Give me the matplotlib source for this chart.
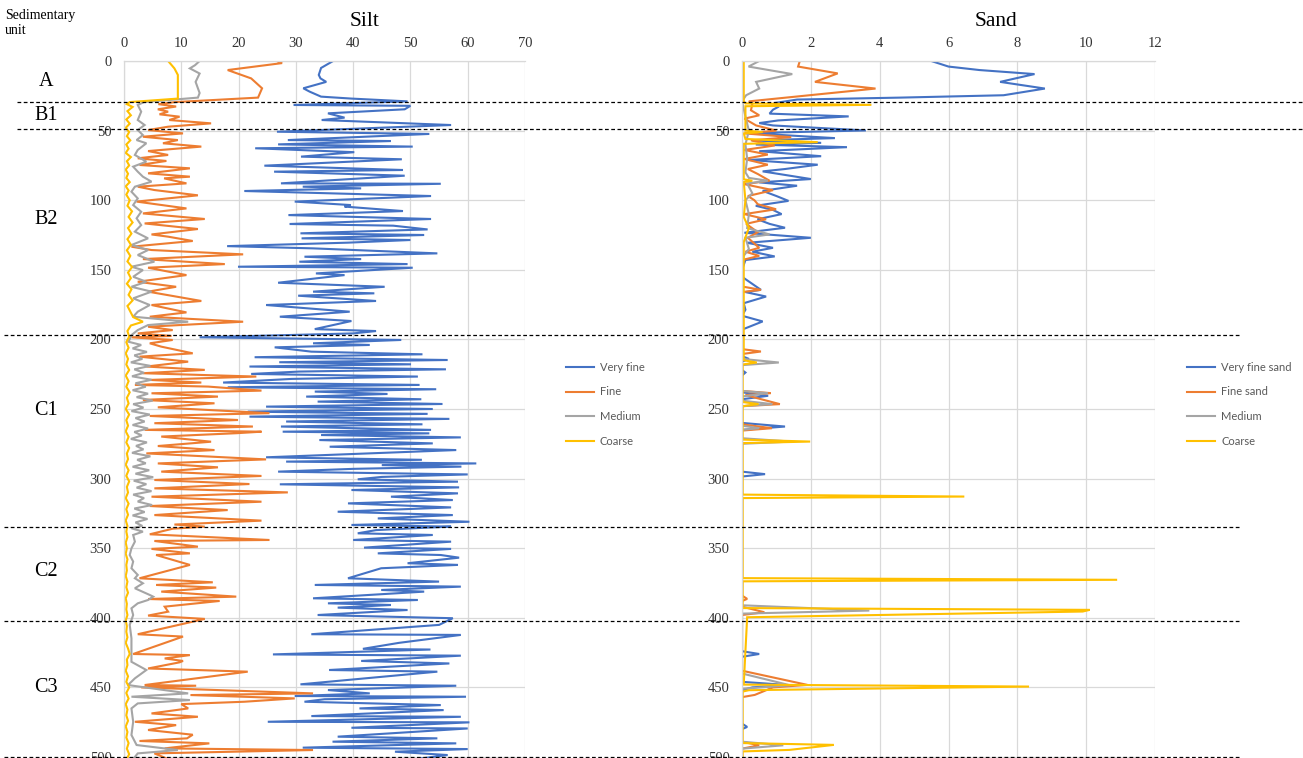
import numpy as np
import matplotlib.pyplot as plt
from matplotlib.lines import Line2D
from matplotlib.transforms import blended_transform_factory

# grain size fractions (%) against depth (cm); pairs of (depth, value)
silt_very_fine = [
    (0, 36.5), (5, 34.4), (10, 34.0), (12.5, 34.3), (15, 35.3), (19.6, 31.3), (22, 32.4),
    (25.6, 34.4), (27, 39.7), (29, 49.5), (31.6, 29.6), (32.2, 50.0), (34.7, 49.0),
    (37.6, 35.6), (40.7, 38.5), (42.4, 34.5), (46, 57.1), (50.8, 26.7), (52.4, 53.3),
    (56.8, 28.6), (57.5, 46.6), (59.9, 26.9), (61.5, 50.4), (62.7, 22.9), (65.5, 40.2),
    (68.7, 30.9), (70.6, 48.5), (75.2, 24.5), (78.3, 48.7), (79.5, 26.2), (82.4, 49.0),
    (87.9, 27.4), (88.2, 55.3), (90.3, 31.2), (91.5, 41.4), (93.4, 21.0), (97, 53.6),
    (101, 29.8), (103.5, 39.6), (104.6, 38.5), (107.8, 48.7), (110.7, 28.7), (113.5, 53.6),
    (117.1, 28.9), (118.3, 47.0), (121, 53.0), (123.8, 30.8), (125, 52.4), (127.4, 31.0),
    (128.6, 50.0), (130.5, 39.1), (133, 18.0), (134.6, 33.0), (138.2, 54.7), (140.6, 31.5),
    (142.3, 41.4), (144.2, 30.6), (145.9, 49.5), (147.8, 19.9), (148.5, 50.4), (152.6, 33.5),
    (153.8, 38.5), (159.3, 26.9), (162.2, 45.5), (165.7, 33.0), (166.9, 43.7), (168.6, 30.4),
    (172.4, 44.0), (175.3, 24.8), (180.1, 39.4), (183.7, 27.2), (186.8, 39.7), (192.6, 33.3),
    (194, 44.0), (195.7, 40.0), (198.5, 13.2), (200.4, 48.4), (202.8, 33.0), (204, 42.9),
    (205.7, 26.3), (208.8, 32.7), (210.7, 52.1), (212.8, 22.8), (214.8, 56.5), (216.4, 27.1),
    (217.9, 50.1), (219.5, 21.9), (221.5, 56.2), (223.1, 30.6), (224.8, 22.2), (226.7, 51.3),
    (228.4, 29.2), (231, 17.3), (232.7, 51.6), (234.4, 18.1), (235.8, 54.5), (237.5, 33.3),
    (239.2, 46.0), (241.1, 31.8), (243, 51.9), (244.7, 33.8), (246.4, 55.6), (248.3, 24.8),
    (250, 53.9), (251.9, 21.6), (253.5, 53.0), (255.5, 21.9), (257.1, 56.8), (259, 28.3),
    (261, 52.1), (262.6, 27.4), (265, 53.6), (266.3, 27.7), (267.5, 53.3), (268.7, 34.4),
    (270.4, 58.8), (272.3, 34.1), (274.7, 53.9), (277.1, 35.9), (279.5, 58.0), (281.9, 42.9),
    (284.7, 24.8), (286.5, 52.0), (287.8, 28.3), (289.1, 61.5), (290.3, 45.0), (291.4, 58.9),
    (293, 40.0), (295, 26.9), (297, 60.0), (298.8, 45.0), (300.5, 40.8), (302.2, 58.3),
    (304.1, 27.2), (306.3, 58.5), (308.2, 39.7), (310.6, 58.3), (313, 46.6), (315.4, 57.4),
    (317.8, 39.1), (320.7, 57.1), (323.8, 37.3), (326.2, 57.4), (328.6, 44.3), (331, 60.3),
    (333.3, 39.7), (334.5, 57.1), (335.2, 53.0), (337, 44.0), (339.3, 40.8), (340.5, 53.9),
    (344.1, 40.0), (345.3, 57.1), (349.6, 41.9), (350.5, 57.1), (353.7, 44.3), (354.9, 55.3),
    (356.8, 58.5), (360.8, 49.5), (362, 58.3), (364.4, 44.9), (371.6, 39.1), (374, 55.0),
    (376.4, 33.3), (377.6, 58.8), (380, 44.9), (381.2, 52.4), (386, 33.0), (387.2, 51.3),
    (389.6, 35.6), (390.8, 46.6), (392.7, 37.3), (394.4, 49.5), (398, 33.8), (400.3, 57.4),
    (405.1, 55.0), (411.8, 32.7), (412.3, 58.8), (418, 48.0), (422.3, 41.7), (422.8, 53.5),
    (426.3, 26.0), (427.2, 58.8), (431, 41.4), (432.8, 56.8), (437.5, 35.8), (438.7, 54.7),
    (447.8, 30.8), (448.8, 58.0), (451.9, 35.6), (454.3, 42.9), (456.2, 29.8), (456.7, 59.7),
    (458.5, 35.0), (460.3, 31.5), (462.7, 55.3), (465.1, 41.1), (466.3, 55.8), (470.6, 32.7),
    (471.1, 58.8), (474.7, 25.1), (475.1, 60.3), (479, 39.7), (479.5, 60.0), (485.4, 37.3),
    (486.6, 54.7), (489, 36.4), (490.2, 58.0), (493.3, 31.2), (494.3, 60.0), (496.2, 47.3),
    (498.6, 56.5), (502, 50.0),
]

silt_fine = [
    (0, 26.7), (1.5, 27.6), (6.5, 18.1), (12.5, 22.2), (19.6, 24.1), (26.3, 23.4), (29.5, 9.0),
    (31, 6.0), (32.7, 9.1), (34.7, 5.9), (36.4, 7.7), (38.3, 6.2), (40, 9.7), (42.4, 7.9),
    (44.8, 15.2), (47.2, 7.7), (49.6, 4.2), (52, 10.3), (54.4, 3.3), (56.8, 9.4), (59.1, 6.8),
    (61.5, 13.5), (64.7, 4.2), (67.5, 7.7), (69.9, 2.4), (71.8, 7.4), (74.7, 2.7), (77.1, 11.5),
    (80.7, 4.2), (83.1, 11.5), (84.3, 7.0), (87.9, 10.9), (90.3, 2.4), (92.7, 5.3), (96.5, 12.9),
    (101, 2.2), (105.9, 10.9), (109.5, 3.3), (113.5, 14.1), (116.7, 3.6), (120.7, 12.9),
    (124.6, 4.8), (126.2, 7.7), (129.3, 12.0), (133.4, 1.3), (135.8, 4.8), (138.9, 20.8),
    (142.3, 3.3), (145.9, 17.6), (148.5, 4.2), (153.8, 10.9), (158.6, 2.4), (162.2, 9.1),
    (165.7, 4.2), (172.4, 13.5), (175.3, 4.8), (180.6, 10.9), (183.7, 4.5), (187.3, 20.8),
    (190.9, 4.2), (193.3, 8.5), (195.7, 2.4), (197.5, 8.3), (198.5, 1.3), (200.4, 8.5),
    (202.8, 4.5), (205.2, 6.5), (210, 12.0), (212.4, 2.7), (216, 11.2), (219.5, 3.9),
    (221.9, 14.1), (224.3, 3.3), (226.7, 23.1), (229.1, 4.5), (231, 13.5), (232.7, 1.9),
    (233.9, 14.7), (236.8, 24.0), (238.7, 4.8), (241.1, 16.4), (243.5, 3.3), (245.9, 15.8),
    (248.8, 5.9), (253, 25.4), (255, 4.5), (257.9, 19.9), (260.2, 5.3), (262.6, 22.5),
    (265, 3.6), (266.3, 24.0), (267.4, 19.6), (269.8, 6.5), (273.5, 15.2), (276.6, 5.9),
    (279.5, 15.8), (281.9, 3.9), (286.2, 24.8), (289.1, 5.9), (291.9, 16.4), (295, 6.5),
    (298.1, 24.0), (301, 5.3), (303.9, 21.9), (307, 5.3), (309.9, 28.6), (313, 4.8),
    (316.6, 24.0), (319.7, 4.5), (322.6, 18.1), (326.2, 5.3), (330.2, 24.0), (333, 8.8),
    (334.5, 14.1), (336, 8.5), (340, 4.5), (344.1, 25.4), (344.8, 5.3), (348.9, 12.9),
    (350.5, 4.8), (353.7, 11.5), (354.9, 5.6), (362, 11.5), (371.6, 2.7), (374.5, 15.5),
    (376.4, 5.6), (378.3, 16.1), (381.2, 6.5), (384.8, 19.6), (386.5, 4.2), (387.9, 16.7),
    (392, 7.1), (395.6, 7.7), (398.4, 4.2), (400.8, 14.1), (411.8, 2.4), (413.5, 10.3),
    (426, 1.6), (426.8, 11.5), (429.2, 7.1), (431, 10.3), (432, 9.7), (436.4, 4.2),
    (438.7, 21.6), (448.3, 3.6), (448.8, 12.6), (450, 3.0), (454.3, 33.0), (455.5, 11.6),
    (457.9, 29.8), (460.3, 21.0), (462, 10.0), (465.1, 11.2), (468.7, 4.8), (471.1, 12.9),
    (474.7, 1.9), (477.1, 9.1), (480.6, 4.2), (484, 12.0), (486.6, 11.0), (488.5, 2.7),
    (490.2, 14.9), (493.8, 7.1), (495, 33.0), (497.4, 5.3), (502, 8.0),
]

silt_medium = [
    (0, 13.2), (3, 12.4), (5.3, 11.5), (9, 13.2), (15, 12.5), (23, 13.2), (26.3, 12.9),
    (29.5, 3.5), (31.6, 2.4), (36.4, 3.0), (42.4, 2.4), (46, 3.6), (49.6, 2.4), (53.2, 3.3),
    (56.8, 2.2), (59.1, 3.9), (63.9, 2.4), (67.5, 1.9), (72.3, 3.9), (75.9, 1.6), (79.5, 2.4),
    (83.1, 3.3), (86.7, 4.8), (90.3, 1.9), (93.9, 1.3), (98.7, 2.4), (103.5, 1.6), (108.3, 3.0),
    (113, 2.2), (117.9, 3.0), (122.6, 1.9), (127.4, 4.2), (132.2, 1.3), (135.8, 4.2),
    (139.4, 2.4), (144.2, 5.3), (147.8, 1.3), (150.2, 3.3), (155, 1.6), (158.6, 3.9),
    (162.2, 1.3), (165.7, 4.8), (170.5, 1.6), (175.3, 4.5), (180.1, 2.4), (183.7, 1.6),
    (187.3, 11.2), (189.7, 4.2), (193.3, 2.4), (196.9, 1.3), (201.7, 0.8), (204, 3.0),
    (206.5, 1.5), (209, 4.0), (211.5, 1.8), (214, 3.2), (216.5, 1.2), (219, 4.6), (221.5, 1.8),
    (224, 3.5), (226.5, 1.4), (229, 4.8), (231.5, 2.0), (234, 3.8), (236.5, 1.5), (239, 4.2),
    (241.5, 2.2), (244, 5.0), (246.5, 1.6), (249, 3.4), (251.5, 1.3), (254, 4.5), (256.5, 2.0),
    (259, 3.6), (261.5, 1.5), (264, 4.2), (266.5, 1.8), (269, 3.1), (271.5, 1.2), (274, 4.0),
    (276.5, 2.1), (279, 3.4), (281.5, 1.4), (284, 4.6), (286.5, 2.3), (289, 3.8), (291.5, 1.5),
    (294, 4.4), (296.5, 2.0), (299, 5.1), (301.5, 1.7), (304, 3.9), (306.5, 2.2), (309, 4.8),
    (311.5, 1.6), (314, 3.5), (316.5, 2.4), (319, 4.9), (321.5, 1.8), (324, 3.6), (326.5, 1.5),
    (329, 4.1), (331.5, 2.0), (334, 3.2), (335.7, 1.3), (338.1, 3.3), (340.5, 1.6),
    (345.3, 1.9), (350.1, 1.3), (354.9, 1.0), (359.6, 1.6), (364.4, 1.3), (369.2, 2.4),
    (371.6, 1.9), (375.2, 3.3), (378.8, 1.9), (383.6, 4.5), (384.8, 5.1), (387.2, 4.2),
    (389.6, 2.4), (393.2, 1.3), (398, 1.6), (405.1, 1.0), (414.7, 1.3), (426.8, 1.3),
    (431.6, 1.3), (437.5, 3.9), (443.5, 1.9), (448.3, 0.7), (454.3, 11.2), (456.7, 1.3),
    (459.1, 11.5), (461.5, 2.4), (465.1, 1.3), (474.7, 1.6), (484.2, 1.3), (491.4, 2.2),
    (495, 9.4), (497.4, 2.4), (502, 1.5),
]

silt_coarse = [
    (0, 7.7), (5.3, 8.8), (10, 9.4), (20, 9.4), (27, 9.4), (29.5, 1.0), (31, 0.5), (33, 1.5),
    (36, 0.6), (39, 1.2), (42, 0.4), (45, 1.0), (48, 0.3), (51, 0.9), (54, 0.5), (57, 1.1),
    (60, 0.4), (63, 0.8), (66, 0.3), (69, 1.2), (72, 0.5), (75, 0.9), (78, 0.3), (81, 0.7),
    (84, 0.4), (87, 1.0), (90, 0.3), (93, 0.8), (96, 0.4), (100, 1.0), (104, 0.6), (108, 1.4),
    (112, 0.8), (116, 1.5), (120, 0.7), (124, 1.3), (128, 0.6), (132, 1.2), (136, 0.5),
    (140, 1.1), (144, 0.6), (148, 1.4), (152, 0.7), (156, 1.2), (160, 0.5), (164, 1.3),
    (168, 0.8), (172, 1.5), (176, 0.6), (180, 1.1), (184, 1.6), (187.3, 3.3), (190, 1.2),
    (194, 0.6), (198, 0.9), (202, 0.4), (206, 0.8), (210, 0.3), (214, 0.7), (218, 0.4),
    (222, 0.9), (226, 0.3), (230, 0.8), (234, 0.4), (238, 1.0), (242, 0.5), (246, 0.8),
    (250, 0.3), (254, 0.9), (258, 0.4), (262, 0.7), (266, 0.3), (270, 0.8), (274, 0.4),
    (278, 0.9), (282, 0.5), (286, 0.7), (290, 0.3), (294, 0.8), (298, 0.4), (302, 0.9),
    (306, 0.5), (310, 0.7), (314, 0.3), (318, 0.8), (322, 0.4), (326, 0.7), (330, 0.3),
    (334, 0.6), (338, 0.4), (342, 0.6), (346, 0.3), (350, 0.5), (354, 0.3), (358, 0.6),
    (362, 0.4), (366, 0.5), (370, 0.3), (374, 0.6), (378, 0.4), (382, 0.7), (386, 0.3),
    (390, 0.5), (394, 0.4), (398, 0.6), (402, 0.3), (406, 0.5), (410, 0.4), (414, 0.6),
    (418, 0.3), (422, 0.7), (426, 1.0), (430, 0.5), (434, 0.6), (438, 0.3), (442, 0.7),
    (446, 0.4), (450, 0.9), (454, 0.4), (458, 0.8), (462, 0.3), (466, 0.6), (470, 0.4),
    (474, 0.7), (478, 0.3), (482, 0.6), (486, 0.4), (490, 0.8), (494, 0.5), (498, 0.9),
    (502, 0.4),
]

sand_very_fine = [
    (0, 5.5), (4, 6.0), (6.5, 6.9), (9.4, 8.5), (15, 7.5), (19.8, 8.8), (24.6, 7.6),
    (26.3, 4.6), (27.7, 1.6), (30, 1.0), (33, 1.05), (35, 0.9), (37.8, 0.8), (39.8, 3.1),
    (42.7, 1.05), (44.6, 0.5), (46.3, 0.9), (49.9, 3.6), (51.8, 0.2), (55.4, 2.7), (57.1, 0.3),
    (58.8, 2.3), (60, 0.4), (61.9, 3.05), (64.8, 0.5), (68.4, 2.3), (71.1, 0.2), (74.5, 2.2),
    (77.6, 1.25), (79.3, 0.6), (84.8, 2.0), (87.2, 0.5), (89.6, 1.6), (93.3, 0.6), (97, 1.0),
    (100.5, 1.35), (104, 0.4), (107, 0.9), (110, 1.15), (113.7, 0.45), (117, 0.8),
    (119.8, 1.25), (123.4, 0.07), (127, 2.0), (130.6, 0.15), (134.2, 0.9), (137, 0.3),
    (140.4, 0.95), (143, 0.1), (150, 0.0), (155, 0.0), (164.4, 0.55), (166, 0.1), (169.2, 0.7),
    (174, 0.05), (178.7, 0.1), (183, 0.0), (187.1, 0.6), (193, 0.0), (212, 0.0), (214, 0.2),
    (216, 0.0), (222, 0.0), (223.8, 0.1), (226, 0.0), (238, 0.0), (240.5, 0.76), (243, 0.0),
    (260, 0.0), (262.6, 1.25), (265, 0.0), (295, 0.0), (296.8, 0.67), (298.5, 0.0),
    (424, 0.0), (426, 0.5), (428, 0.0), (446, 0.0), (448.2, 1.27), (450, 0.3), (452, 0.0),
    (476, 0.0), (478.4, 0.15), (480, 0.0), (502, 0.0),
]

sand_fine = [
    (0, 1.68), (4, 1.63), (8.9, 2.78), (15, 2.12), (19.8, 3.88), (29, 0.2), (31, 0.3),
    (35.4, 0.26), (39, 0.5), (41.4, 0.07), (46.3, 0.41), (50, 1.0), (52, 0.07), (54.7, 1.43),
    (57, 0.26), (60.7, 0.95), (63.9, 0.07), (67.2, 0.75), (70.4, 0.07), (74.5, 0.75),
    (77.6, 0.17), (81.2, 0.46), (86, 0.8), (88.5, 0.07), (92.8, 0.9), (97, 0.17), (100, 0.36),
    (102.9, 0.46), (106.5, 0.99), (110, 0.07), (113.7, 0.7), (117, 0.12), (123, 0.46),
    (127, 0.17), (134.2, 0.5), (137, 0.1), (140, 0.5), (143, 0.0), (162, 0.0), (164.4, 0.55),
    (166, 0.0), (207, 0.0), (208.7, 0.55), (210.5, 0.0), (237, 0.0), (238.6, 0.84),
    (240, 0.1), (246.5, 1.1), (248, 0.0), (261, 0.0), (263.8, 0.87), (265.5, 0.0),
    (384, 0.0), (386.4, 0.15), (388, 0.0), (392, 0.0), (396, 0.65), (398, 0.0), (438, 0.0),
    (448.2, 1.9), (450, 0.9), (455.4, 0.37), (457, 0.0), (489, 0.0), (491.6, 0.5),
    (494, 0.0), (502, 0.0),
]

sand_medium = [
    (0, 0.5), (4, 0.19), (9.4, 1.46), (15, 0.41), (19.8, 0.5), (24.6, 0.12), (29, 0.0),
    (40, 0.1), (50, 0.2), (60, 0.1), (70, 0.15), (80, 0.1), (84, 0.2), (86, 0.75), (88, 0.15),
    (95, 0.3), (100, 0.1), (110, 0.2), (120, 0.15), (124.6, 0.8), (127, 0.1), (135, 0.2),
    (140, 0.05), (150, 0.0), (214, 0.0), (216.6, 1.07), (218.5, 0.0), (237, 0.0),
    (238.6, 0.75), (241, 0.0), (244, 0.0), (246.5, 0.88), (248, 0.0), (262, 0.0),
    (263.8, 0.5), (265, 0.0), (271, 0.0), (273.4, 1.44), (275, 0.0), (391, 0.0),
    (394.8, 3.7), (397, 0.0), (440, 0.0), (448.5, 1.4), (451, 0.0), (489, 0.0), (491.6, 1.2),
    (494, 0.0), (502, 0.0),
]

sand_coarse = [
    (0, 0.05), (29, 0.05), (30.5, 0.1), (31.5, 3.76), (32.5, 0.1), (50, 0.1), (51, 0.6),
    (52, 0.05), (56, 0.1), (58.3, 2.2), (59.5, 0.05), (85, 0.05), (86, 0.3), (87, 0.05),
    (100, 0.1), (112, 0.05), (120, 0.2), (130, 0.05), (215, 0.05), (216.6, 0.43), (218, 0.02),
    (245, 0.02), (246.5, 0.48), (248, 0.02), (272, 0.02), (273.4, 1.98), (274.5, 0.02),
    (311.5, 0.02), (312.9, 6.46), (314, 0.02), (371.5, 0.02), (372.7, 10.9), (373.8, 0.02),
    (393, 0.02), (394.3, 10.1), (395.5, 9.9), (399.6, 0.15), (448, 0.05), (449.4, 8.34),
    (452, 0.2), (453, 0.02), (490, 0.02), (491.3, 2.67), (494.9, 1.38), (496, 0.02),
    (502, 0.02),
]

silt_labels = ["Very fine", "Fine", "Medium", "Coarse"]
sand_labels = ["Very fine sand", "Fine sand", "Medium", "Coarse"]
colors = ["#4472C4", "#ED7D31", "#A5A5A5", "#FFC000"]

unit_names = ["A", "B1", "B2", "C1", "C2", "C3"]
unit_label_depth = [15, 39.5, 114, 251, 367, 450]
unit_bounds = [29.5, 48.5, 196.5, 335, 402.5, 500]

serif = "Liberation Serif"
W, H = 1303, 758
fig = plt.figure(figsize=(W / 100, H / 100), dpi=100)

y_bottom = 510
ax_h = y_bottom * 1.392 / H
ax_y0 = 1 - 61 / H - ax_h
ax_silt = fig.add_axes([124 / W, ax_y0, 401 / W, ax_h])
ax_sand = fig.add_axes([742 / W, ax_y0, 413 / W, ax_h])


def style_axis(ax, xmax, xstep):
    ax.set_xlim(0, xmax)
    ax.set_ylim(y_bottom, 0)
    ax.set_xticks(np.arange(0, xmax + 0.1, xstep))
    ax.set_yticks(np.arange(0, 501, 50))
    ax.xaxis.tick_top()
    ax.tick_params(length=0, labelsize=10.5, labelcolor="#333333")
    ax.tick_params(axis="x", pad=8)
    ax.tick_params(axis="y", pad=9)
    for lbl in ax.get_xticklabels() + ax.get_yticklabels():
        lbl.set_fontfamily(serif)
    ax.grid(True, color="#d9d9d9", lw=0.9)
    ax.set_axisbelow(True)
    for side in ["right", "bottom"]:
        ax.spines[side].set_visible(False)
    for side in ["left", "top"]:
        ax.spines[side].set_color("#d9d9d9")
        ax.spines[side].set_linewidth(0.9)


def draw(ax, series, labels):
    for data, lab, col in zip(series, labels, colors):
        d, v = np.array(data).T
        ax.plot(v, d, color=col, lw=1.5, label=lab, solid_joinstyle="miter")


style_axis(ax_silt, 70, 10)
style_axis(ax_sand, 12, 2)
draw(ax_silt, [silt_very_fine, silt_fine, silt_medium, silt_coarse], silt_labels)
draw(ax_sand, [sand_very_fine, sand_fine, sand_medium, sand_coarse], sand_labels)

leg_kw = dict(frameon=False, handlelength=2.6, handletextpad=0.5, labelspacing=1.25,
              borderpad=0, prop={"family": "Lato", "size": 8}, labelcolor="#595959")
ax_silt.legend(loc="upper left", bbox_to_anchor=(560 / W, 1 - 356 / H),
               bbox_transform=fig.transFigure, **leg_kw)
ax_sand.legend(loc="upper left", bbox_to_anchor=(1181 / W, 1 - 356 / H),
               bbox_transform=fig.transFigure, **leg_kw)

# unit boundaries run across the whole figure
tr = blended_transform_factory(fig.transFigure, ax_silt.transData)
for i, b in enumerate(unit_bounds):
    x0, x1 = (17 / W, 1.0) if i < 2 else (4 / W, 1240 / W)
    fig.add_artist(Line2D([x0, x1], [b, b], transform=tr, color="black",
                          lw=0.9, ls=(0, (3, 2))))

for name, d in zip(unit_names, unit_label_depth):
    fig.text(46 / W, d, name, transform=tr, ha="center", va="center",
             fontsize=14.5, family=serif)

fig.text(5 / W, 1 - 9 / H, "Sedimentary\nunit", ha="left", va="top",
         fontsize=10, family=serif, linespacing=1.25)
fig.text(365 / W, 1 - 21 / H, "Silt", ha="center", va="center", fontsize=15.5, family=serif)
fig.text(996 / W, 1 - 21 / H, "Sand", ha="center", va="center", fontsize=15.5, family=serif)

fig.savefig("out.png", dpi=100)
